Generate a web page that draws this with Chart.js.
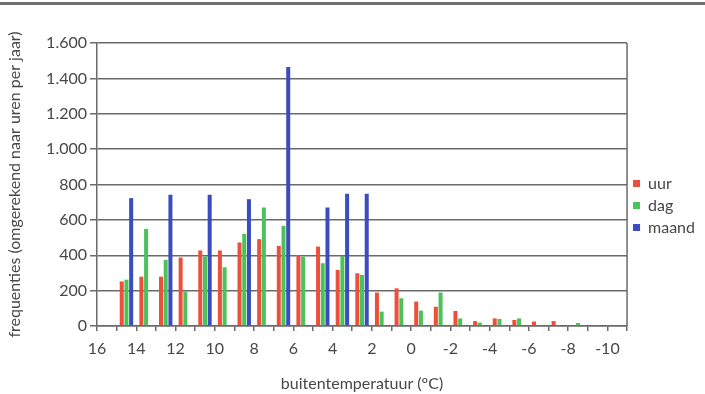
<!DOCTYPE html>
<html>
<head>
<meta charset="utf-8">
<script src="https://cdn.jsdelivr.net/npm/chart.js@4.4.1/dist/chart.umd.min.js"></script>
<style>
  html, body { margin: 0; padding: 0; background: #fff; }
  canvas { display: block; }
</style>
</head>
<body>
<canvas id="freqChart" width="705" height="394"></canvas>
<script>
// temperature bins (centre of each 1 degree bin)
const bins = [15.5, 14.5, 13.5, 12.5, 11.5, 10.5, 9.5, 8.5, 7.5, 6.5, 5.5, 4.5, 3.5, 2.5,
              1.5, 0.5, -0.5, -1.5, -2.5, -3.5, -4.5, -5.5, -6.5, -7.5, -8.5, -9.5, -10.5];
const uur   = [0, 252, 279, 279, 387, 427, 427, 472, 491, 453, 400, 449, 317, 298,
               189, 213, 138, 109, 85, 28, 43, 34, 25, 28, 5, 3, 0];
const dag   = [0, 262, 549, 374, 194, 393, 332, 521, 670, 566, 392, 355, 396, 289,
               81, 157, 87, 189, 43, 19, 40, 43, 5, 3, 17, 3, 0];
const maand = [null, 723, null, 742, null, 742, null, 717, null, 1465, null, 670, 747, 747,
               null, null, null, null, null, null, null, null, null, null, null, null, null];
const yTicks = [0, 200, 400, 600, 800, 1000, 1200, 1400, 1600];

const lineGrey = '#6a6a6a';
const textGrey = '#474747';

function toPoints(values) {
    return bins.map((b, i) => ({ x: b, y: values[i] }));
}

function dutchNumber(v) {
    if (v >= 1000) {
        return Math.floor(v / 1000) + '.' + String(v % 1000).padStart(3, '0');
    }
    return String(v);
}

// page rule at the top and the frame on the right of the plot
const decorations = {
    id: 'decorations',
    beforeDraw(chart) {
        const ctx = chart.ctx;
        ctx.save();
        ctx.fillStyle = '#707070';
        ctx.fillRect(0, 2, chart.width, 3);
        ctx.restore();
    },
    afterDatasetsDraw(chart) {
        const { ctx, chartArea } = chart;
        ctx.save();
        ctx.strokeStyle = lineGrey;
        ctx.lineWidth = 1.5;
        ctx.beginPath();
        ctx.moveTo(chartArea.right, chartArea.top);
        ctx.lineTo(chartArea.right, chartArea.bottom);
        ctx.stroke();
        ctx.restore();
    },
    afterLayout(chart) {
        // move the legend up a bit
        chart.legend.top -= 13;
        chart.legend.bottom -= 13;
    }
};

new Chart(document.getElementById('freqChart').getContext('2d'), {
    type: 'bar',
    data: {
        datasets: [
            { label: 'uur', data: toPoints(uur), backgroundColor: '#ec4f3a' },
            { label: 'dag', data: toPoints(dag), backgroundColor: '#4cc25a' },
            { label: 'maand', data: toPoints(maand), backgroundColor: '#3a4cc0' }
        ]
    },
    options: {
        responsive: false,
        animation: false,
        devicePixelRatio: 1,
        categoryPercentage: 0.72,
        barPercentage: 0.85,
        layout: { padding: { top: 43, left: 0, right: 0, bottom: 0 } },
        plugins: {
            tooltip: { enabled: false },
            legend: {
                position: 'right',
                labels: {
                    boxWidth: 7,
                    boxHeight: 7,
                    padding: 6,
                    color: textGrey,
                    font: { family: 'Lato', size: 16 }
                }
            }
        },
        scales: {
            x: {
                type: 'linear',
                reverse: true,
                min: -11,
                max: 16,
                offset: false,
                grid: { offset: false, drawOnChartArea: false, drawTicks: true, tickLength: 5, color: lineGrey, lineWidth: 1.5 },
                border: { color: lineGrey, width: 1.5 },
                ticks: {
                    stepSize: 1,
                    autoSkip: false,
                    maxRotation: 0,
                    padding: 8,
                    color: textGrey,
                    font: { family: 'Lato', size: 16 },
                    callback: (v) => (v % 2 === 0 ? String(v) : '')
                },
                title: {
                    display: true,
                    text: 'buitentemperatuur (°C)',
                    color: textGrey,
                    font: { family: 'Lato', size: 16 },
                    padding: { top: 4, bottom: 1 }
                },
                afterFit(scale) { scale.height = 68; }
            },
            y: {
                min: 0,
                max: 1600,
                afterBuildTicks(scale) { scale.ticks = yTicks.map(v => ({ value: v })); },
                grid: { color: lineGrey, lineWidth: 1.5, tickLength: 7 },
                border: { color: lineGrey, width: 1.5 },
                ticks: {
                    padding: 3,
                    color: textGrey,
                    font: { family: 'Lato', size: 16 },
                    callback: (v) => dutchNumber(v)
                },
                title: {
                    display: true,
                    text: 'frequenties (omgerekend naar uren per jaar)',
                    color: textGrey,
                    font: { family: 'Lato', size: 16 },
                    padding: { top: 5, bottom: 0 }
                },
                afterFit(scale) { scale.width = 97; }
            }
        }
    },
    plugins: [decorations]
});
</script>
</body>
</html>
